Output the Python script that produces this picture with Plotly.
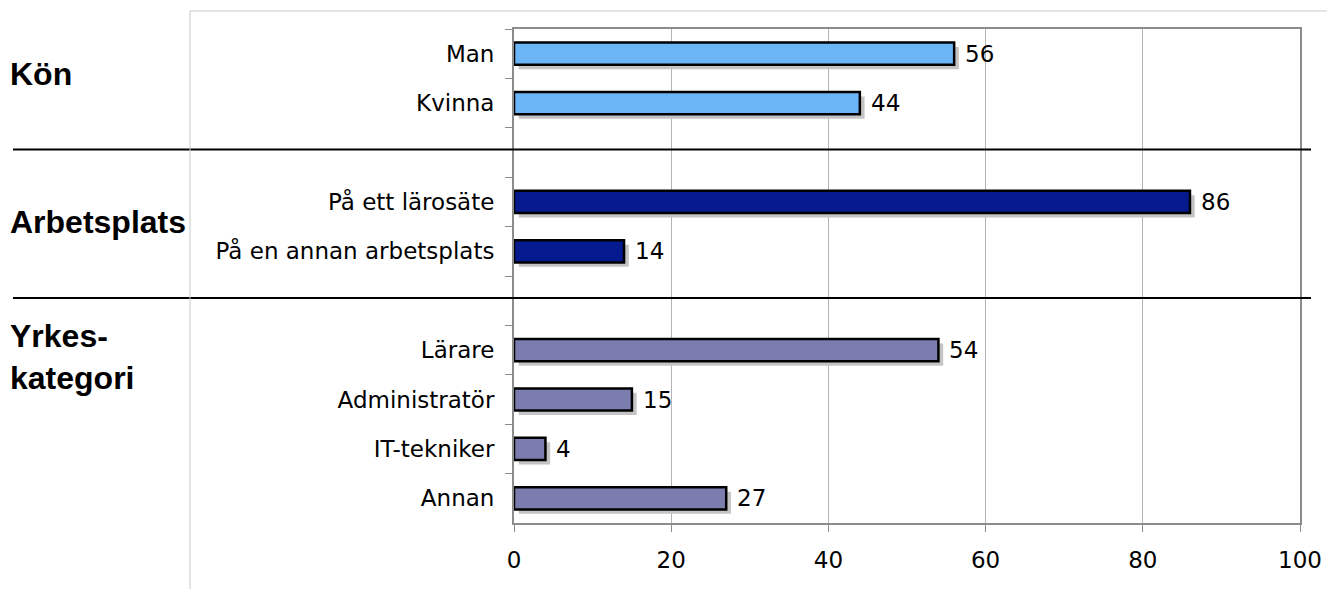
import plotly.graph_objects as go

# data
kon_labels = ["Man", "Kvinna"]
kon_values = [56, 44]

arbets_labels = ["På ett lärosäte", "På en annan arbetsplats"]
arbets_values = [86, 14]

yrke_labels = ["Lärare", "Administratör", "IT-tekniker", "Annan"]
yrke_values = [54, 15, 4, 27]

group_titles = ["Kön", "Arbetsplats", "Yrkes-<br>kategori"]
group_colors = ["#6CB6F8", "#041A8E", "#7B7DAE"]

x_ticks = [0, 20, 40, 60, 80, 100]

groups = [
    (kon_labels, kon_values),
    (arbets_labels, arbets_values),
    (yrke_labels, yrke_values),
]

# category order with blank spacer rows between groups
categories = []
for i, (labels, _) in enumerate(groups):
    categories += labels
    if i < len(groups) - 1:
        categories.append(" " * (i + 1))

all_labels = kon_labels + arbets_labels + yrke_labels
all_values = kon_values + arbets_values + yrke_values

BAR_W = 0.45
FONT = "DejaVu Sans"
FS = 23

# the page body has an 8px margin, so shrink the figure by that much
BODY = 8

fig = go.Figure()

# drop shadow
fig.add_trace(
    go.Bar(
        y=all_labels,
        x=all_values,
        base=0.6,
        orientation="h",
        width=BAR_W,
        offset=-BAR_W / 2 + 0.09,
        marker=dict(color="#C4C4C4", line=dict(width=0)),
        hoverinfo="skip",
        showlegend=False,
    )
)

for (labels, values), color in zip(groups, group_colors):
    fig.add_trace(
        go.Bar(
            y=labels,
            x=values,
            orientation="h",
            width=BAR_W,
            offset=-BAR_W / 2,
            marker=dict(color=color, line=dict(color="black", width=2.5)),
            showlegend=False,
        )
    )

# value labels
for lab, val in zip(all_labels, all_values):
    fig.add_annotation(
        x=val,
        y=lab,
        text=str(val),
        showarrow=False,
        xanchor="left",
        xshift=9,
        font=dict(family=FONT, size=FS, color="black"),
    )


# pixel (page) -> paper helpers, plot area is 514..1300 x 29..523
def px(x):
    return (x - 514) / 786


def py(y):
    return (523 - y) / 494


# group titles
for title, ypix in zip(group_titles, [74, 222, 357]):
    fig.add_annotation(
        x=px(8),
        y=py(ypix),
        xref="paper",
        yref="paper",
        text=f"<b>{title}</b>",
        showarrow=False,
        xanchor="left",
        yanchor="middle",
        align="left",
        font=dict(family="Liberation Sans", size=32, color="black"),
    )

# separators between groups
for ypix in [149.5, 298]:
    fig.add_shape(
        type="line",
        xref="paper",
        yref="paper",
        x0=px(13),
        x1=px(1311),
        y0=py(ypix),
        y1=py(ypix),
        line=dict(color="black", width=2),
    )

# outer frame (top and left)
fig.add_shape(
    type="line", xref="paper", yref="paper",
    x0=px(190), x1=px(1340), y0=py(11), y1=py(11),
    line=dict(color="#C8C8C8", width=1),
)
fig.add_shape(
    type="line", xref="paper", yref="paper",
    x0=px(190), x1=px(190), y0=py(11), y1=py(600),
    line=dict(color="#C8C8C8", width=1),
)

fig.update_layout(
    width=1335 - BODY,
    height=589 - BODY,
    margin=dict(l=514 - BODY, r=35, t=29 - BODY, b=66),
    paper_bgcolor="white",
    plot_bgcolor="white",
    barmode="overlay",
    font=dict(family=FONT, size=FS, color="black"),
    xaxis=dict(
        range=[0, 100],
        tickvals=x_ticks,
        showgrid=True,
        gridcolor="#B4B4B4",
        gridwidth=1,
        zeroline=False,
        showline=True,
        linecolor="#8C8C8C",
        linewidth=2,
        mirror=True,
        ticks="outside",
        ticklen=7,
        tickcolor="#8C8C8C",
        ticklabelstandoff=8,
        tickfont=dict(family=FONT, size=FS),
    ),
    yaxis=dict(
        type="category",
        categoryorder="array",
        categoryarray=categories,
        range=[len(categories) - 0.5, -0.5],
        showgrid=False,
        zeroline=False,
        showline=True,
        linecolor="#8C8C8C",
        linewidth=2,
        mirror=True,
        ticks="outside",
        tickson="boundaries",
        ticklen=7,
        tickcolor="#8C8C8C",
        ticklabelstandoff=13,
        tickfont=dict(family=FONT, size=FS),
    ),
)

fig.write_html("out.html")
